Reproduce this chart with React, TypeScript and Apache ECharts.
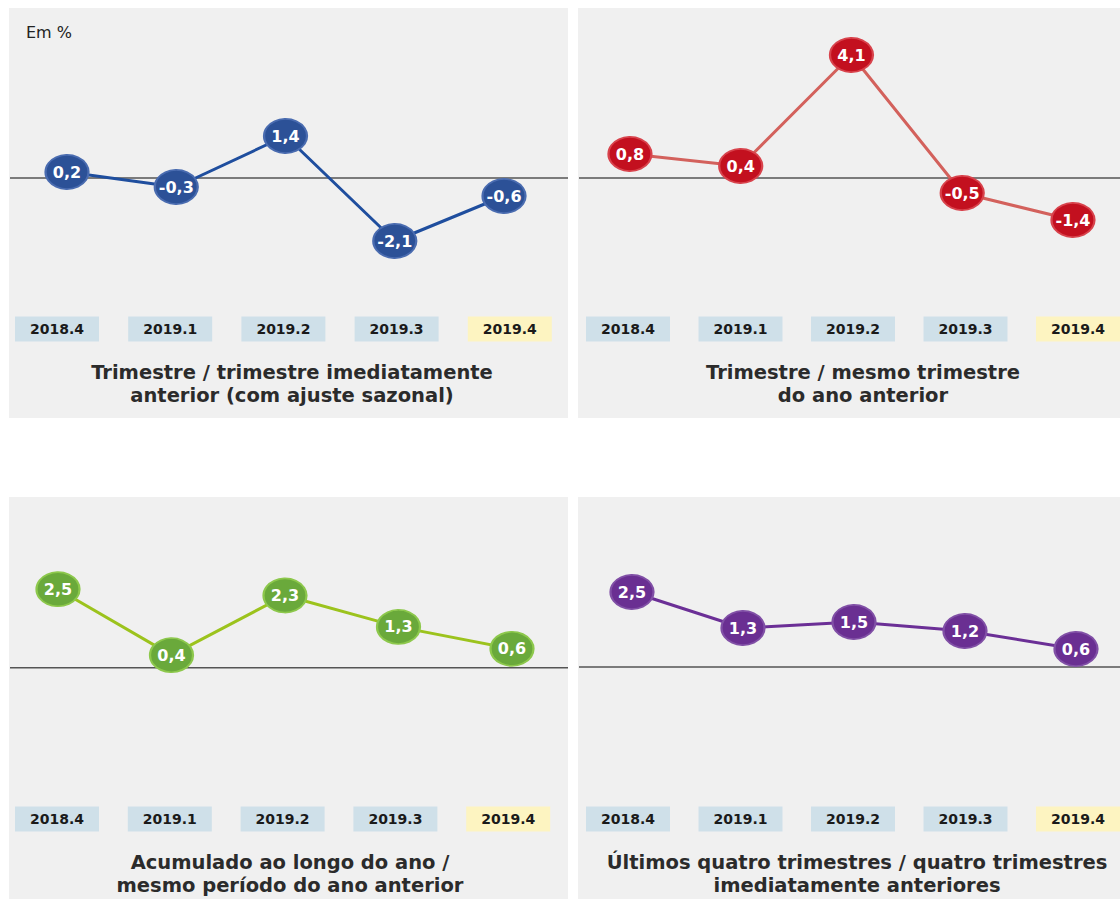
import React, { useEffect, useRef } from "react";
import * as echarts from "echarts";

const categories = ["2018.4", "2019.1", "2019.2", "2019.3", "2019.4"];
const qoqSeasonal = [0.2, -0.3, 1.4, -2.1, -0.6];
const yoyQuarter = [0.8, 0.4, 4.1, -0.5, -1.4];
const ytdCumulative = [2.5, 0.4, 2.3, 1.3, 0.6];
const fourQuarters = [2.5, 1.3, 1.5, 1.2, 0.6];
const panelTitles = [
  "Trimestre / trimestre imediatamente\nanterior (com ajuste sazonal)",
  "Trimestre / mesmo trimestre\ndo ano anterior",
  "Acumulado ao longo do ano /\nmesmo período do ano anterior",
  "Últimos quatro trimestres / quatro trimestres\nimediatamente anteriores",
];
const unitLabel = "Em %";

const panels = [
  {
    data: qoqSeasonal,
    line: "#1f4e9e", fill: "#2c5197", border: "#4a6cb0",
    grid: { left: 12.4, top: 28, width: 546.25, height: 270 },
    labelGrid: { left: 0.4, top: 28, width: 566, height: 270 },
    yMin: -4, yMax: 5, labelMargin: 18.5,
    rect: [9, 8, 559, 410], titleX: 292, titleY: 360.5,
  },
  {
    data: yoyQuarter,
    line: "#d3615c", fill: "#c3101f", border: "#d8434c",
    grid: { left: 574.6, top: 28, width: 553.75, height: 270 },
    labelGrid: { left: 571.75, top: 28, width: 562.5, height: 270 },
    yMin: -4, yMax: 5, labelMargin: 18.5,
    rect: [578, 8, 542, 410], titleX: 863, titleY: 360.5,
  },
  {
    data: ytdCumulative,
    line: "#9cc31d", fill: "#6aa93b", border: "#8dc84c",
    grid: { left: 1.25, top: 517, width: 567.5, height: 270 },
    labelGrid: { left: 0.6, top: 517, width: 564, height: 270 },
    yMin: -3.8, yMax: 4.8, labelMargin: 19.5,
    rect: [9, 497, 559, 402], titleX: 290, titleY: 850.5,
  },
  {
    data: fourQuarters,
    line: "#6b2f96", fill: "#6a2f92", border: "#8150a6",
    grid: { left: 576.5, top: 517, width: 555, height: 270 },
    labelGrid: { left: 571.75, top: 517, width: 562.5, height: 270 },
    yMin: -4, yMax: 5, labelMargin: 19.5,
    rect: [578, 497, 542, 402], titleX: 857, titleY: 850.5,
  },
];

const fmt = (v: number) => v.toFixed(1).replace(".", ",");

export default function App() {
  const ref = useRef<HTMLDivElement>(null);
  useEffect(() => {
    if (!ref.current) return;
    const chart = echarts.init(ref.current, null, { renderer: "svg" });
    const grid: any[] = [];
    const xAxis: any[] = [];
    const yAxis: any[] = [];
    const series: any[] = [];
    const boxBase = {
      width: 84,
      height: 25,
      lineHeight: 25,
      align: "center",
      fontFamily: "DejaVu Sans",
      fontWeight: "bold",
      fontSize: 14,
      color: "#1a1a1a",
    };
    panels.forEach((p, i) => {
      grid.push({ ...p.grid, containLabel: false, outerBoundsMode: "none" });
      grid.push({ ...p.labelGrid, containLabel: false, outerBoundsMode: "none" });
      xAxis.push({ gridIndex: 2 * i, type: "category", data: categories, show: false });
      xAxis.push({
        gridIndex: 2 * i + 1,
        type: "category",
        data: categories,
        position: "bottom",
        axisLine: { show: false, onZero: false },
        axisTick: { show: false },
        splitLine: { show: false },
        axisLabel: {
          interval: 0,
          margin: p.labelMargin,
          hideOverlap: false,
          formatter: (v: string, idx: number) => (idx === categories.length - 1 ? `{hl|${v}}` : `{n|${v}}`),
          rich: {
            n: { ...boxBase, backgroundColor: "#cfe0e9" },
            hl: { ...boxBase, backgroundColor: "#fdf4c1" },
          },
        },
      });
      yAxis.push({ gridIndex: 2 * i, type: "value", min: p.yMin, max: p.yMax, show: false });
      yAxis.push({ gridIndex: 2 * i + 1, type: "value", min: p.yMin, max: p.yMax, show: false });
      series.push({
        type: "line",
        xAxisIndex: 2 * i,
        yAxisIndex: 2 * i,
        data: p.data,
        z: 5,
        lineStyle: { color: p.line, width: 3 },
        symbol: "circle",
        symbolSize: [43, 34],
        itemStyle: { color: p.fill, borderColor: p.border, borderWidth: 2 },
        label: {
          show: true,
          position: "inside",
          formatter: (d: any) => fmt(d.value),
          color: "#ffffff",
          fontFamily: "DejaVu Sans",
          fontWeight: "bold",
          fontSize: 16,
        },
      });
    });
    chart.setOption({ animation: false, backgroundColor: "#ffffff", grid, xAxis, yAxis, series });

    const graphic: any[] = [];
    panels.forEach((p, i) => {
      graphic.push({
        type: "rect",
        z: -10,
        shape: { x: p.rect[0], y: p.rect[1], width: p.rect[2], height: p.rect[3] },
        style: { fill: "#f0f0f0" },
      });
      const y0 = chart.convertToPixel({ yAxisIndex: 2 * i } as any, 0) as number;
      graphic.push({
        type: "line",
        z: 1,
        shape: { x1: p.rect[0] + 1, y1: y0, x2: p.rect[0] + p.rect[2], y2: y0 },
        style: { stroke: "#555555", lineWidth: 1.5 },
      });
      graphic.push({
        type: "text",
        z: 1,
        x: p.titleX,
        y: p.titleY,
        style: {
          text: panelTitles[i],
          align: "center",
          verticalAlign: "top",
          fontFamily: "DejaVu Sans",
          fontWeight: "bold",
          fontSize: 19.5,
          lineHeight: 23,
          fill: "#2b2b2b",
        },
      });
    });
    graphic.push({
      type: "text",
      z: 1,
      x: 26,
      y: 32,
      style: {
        text: unitLabel,
        verticalAlign: "middle",
        fontFamily: "DejaVu Sans",
        fontSize: 16,
        fill: "#222222",
      },
    });
    chart.setOption({ graphic });
    return () => chart.dispose();
  }, []);
  return (
    <div
      ref={ref}
      style={{ position: "absolute", left: 0, top: 0, width: 1120, height: 899 }}
    />
  );
}
